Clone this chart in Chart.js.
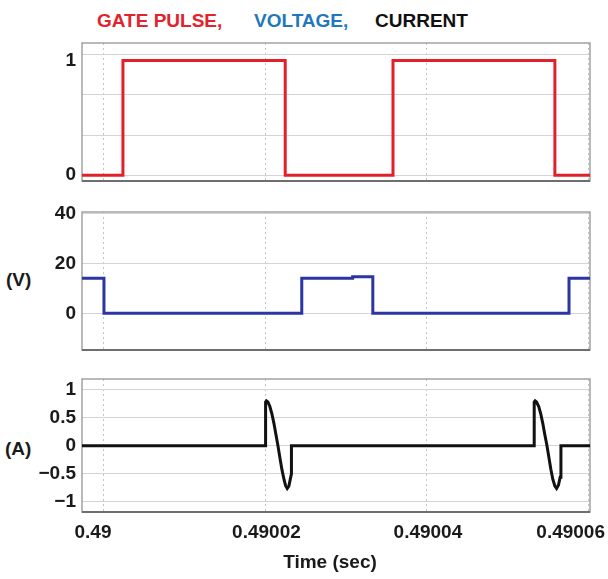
<!DOCTYPE html>
<html>
<head>
<meta charset="utf-8">
<script src="https://cdn.jsdelivr.net/npm/chart.js@4.4.1/dist/chart.umd.min.js"></script>
<style>
  body { margin: 0; background: #fff; font-family: Arial, "Liberation Sans", sans-serif; }
  #wrap { position: relative; width: 608px; height: 579px; overflow: hidden; }
  .box { position: absolute; left: 0; width: 608px; }
  .lbl { position: absolute; font: bold 19px Arial, "Liberation Sans", sans-serif; line-height: 20px; white-space: nowrap; }
</style>
</head>
<body>
<div id="wrap">
  <div class="lbl" style="left:97px; top:11px; color:#e3232c;">GATE PULSE,</div>
  <div class="lbl" style="left:254px; top:11px; color:#1f78be;">VOLTAGE,</div>
  <div class="lbl" style="left:375px; top:11px; color:#111;">CURRENT</div>
  <div class="lbl" style="left:6px; top:270px; color:#1a1a1a;">(V)</div>
  <div class="lbl" style="left:5px; top:439px; color:#1a1a1a;">(A)</div>

  <div class="box" style="top:40px; height:144px;"><canvas id="gateChart"></canvas></div>
  <div class="box" style="top:205px; height:150px;"><canvas id="voltChart"></canvas></div>
  <div class="box" style="top:372px; height:207px;"><canvas id="currChart"></canvas></div>
</div>

<script>
// time axis (seconds), traces given in microseconds after 0.49 s
const T0 = 0.49;
const xMin = 0.48999728, xMax = 0.4900602;
const timeTicks = [0.49, 0.49002, 0.49004, 0.49006];
const timeTickLabels = ['0.49', '0.49002', '0.49004', '0.49006'];

// gate pulse (step changes)
const gateTimeUs = [-2.72, 2.35, 22.45, 35.8, 55.85, 60.2];
const gateValues = [0, 1, 0, 1, 0, 0];
const gateGridValues = [0, 0.35, 0.7, 1.05];
const gateTickValues = [0, 1];

// voltage (step changes)
const voltTimeUs = [-2.72, 0, 24.5, 30.8, 33.3, 57.6, 60.2];
const voltValues = [14.1, 0, 14.1, 14.7, 0, 14.1, 14.1];
const voltTicks = [0, 20, 40];

// current
const currTimeUs = [-2.72, 20.02, 20.02, 20.12, 20.3, 20.55, 20.8, 21.05, 21.3, 21.55, 21.8, 22.05, 22.3, 22.5, 22.7, 22.9, 23.1, 23.22, 23.22,
    53.29, 53.29, 53.4, 53.58, 53.85, 54.1, 54.35, 54.6, 54.85, 55.1, 55.35, 55.6, 55.85, 56.06, 56.3, 56.5, 56.6, 56.6, 60.2];
const currValues = [0, 0, 0.78, 0.8, 0.78, 0.7, 0.57, 0.4, 0.2, 0, -0.22, -0.43, -0.6, -0.71, -0.76, -0.72, -0.58, -0.5, 0,
    0, 0.78, 0.8, 0.78, 0.7, 0.57, 0.4, 0.2, 0.02, -0.2, -0.42, -0.6, -0.72, -0.76, -0.7, -0.56, -0.5, 0, 0];
const currTicks = [-1, -0.5, 0, 0.5, 1];
const currTickLabels = ['\u22121', '\u22120.5', '0', '0.5', '1'];

const toPoints = (us, vals) => us.map((t, i) => ({ x: T0 + t * 1e-6, y: vals[i] }));

const tickFont = { family: 'Arial, "Liberation Sans", sans-serif', size: 19, weight: 'bold' };

const framePlugin = {
    id: 'frame',
    beforeDatasetsDraw(chart) {
        const { ctx, chartArea: a } = chart;
        ctx.save();
        ctx.strokeStyle = '#a2a2a2';
        ctx.lineWidth = 1.5;
        ctx.strokeRect(a.left, a.top, a.width, a.height);
        ctx.strokeStyle = '#6e6e6e';
        ctx.lineWidth = 2;
        ctx.beginPath();
        ctx.moveTo(a.left, a.bottom);
        ctx.lineTo(a.right, a.bottom);
        ctx.stroke();
        ctx.restore();
    }
};

// time labels under the last panel
const timeLabelNudge = [-11, 1, 1, 0];
const timeAxisPlugin = {
    id: 'timeAxis',
    afterDraw(chart) {
        const { ctx, chartArea: a } = chart;
        const sx = chart.scales.x;
        ctx.save();
        ctx.font = 'bold 19px Arial, "Liberation Sans", sans-serif';
        ctx.fillStyle = '#1a1a1a';
        ctx.textAlign = 'center';
        ctx.textBaseline = 'middle';
        timeTicks.forEach((v, i) => {
            const w = ctx.measureText(timeTickLabels[i]).width;
            let x = sx.getPixelForValue(v) + timeLabelNudge[i];
            x = Math.min(x, chart.width - w / 2 - 3);
            ctx.fillText(timeTickLabels[i], x, a.bottom + 21);
        });
        ctx.fillText('Time (sec)', a.left + a.width / 2 - 6, a.bottom + 51);
        ctx.restore();
    }
};

function makeChart(id, points, color, yOpts, padding, extraPlugins) {
    return new Chart(document.getElementById(id), {
        type: 'line',
        data: {
            datasets: [{
                data: points,
                borderColor: color,
                borderWidth: 3,
                pointRadius: 0,
                stepped: yOpts.stepped || false,
                tension: 0
            }]
        },
        options: {
            responsive: true,
            maintainAspectRatio: false,
            animation: false,
            layout: { padding: padding },
            plugins: { legend: { display: false }, tooltip: { enabled: false } },
            scales: {
                x: {
                    type: 'linear',
                    min: xMin,
                    max: xMax,
                    afterBuildTicks: s => { s.ticks = timeTicks.map(v => ({ value: v })); },
                    afterFit: s => { s.height = 0; s.paddingLeft = 0; s.paddingRight = 0; },
                    ticks: { display: false },
                    grid: { color: '#c4c4c4', lineWidth: 1, drawTicks: false },
                    border: { display: false, dash: [2, 3] }
                },
                y: {
                    min: yOpts.min,
                    max: yOpts.max,
                    afterBuildTicks: s => { s.ticks = yOpts.ticks.map(v => ({ value: v })); },
                    afterFit: s => { s.width = 82; s.paddingTop = 0; s.paddingBottom = 0; },
                    ticks: {
                        font: tickFont,
                        color: '#1a1a1a',
                        padding: 6,
                        callback: yOpts.label
                    },
                    grid: { color: yOpts.gridColor, lineWidth: 1, drawTicks: false },
                    border: { display: false }
                }
            }
        },
        plugins: [framePlugin].concat(extraPlugins || [])
    });
}

makeChart('gateChart', toPoints(gateTimeUs, gateValues), '#e3202a', {
    min: -0.05, max: 1.152, stepped: 'before',
    ticks: [0, 0.35, 0.7, 1, 1.05],
    label: v => gateTickValues.includes(v) ? String(v) : '',
    gridColor: ctx => ctx.tick && gateGridValues.includes(ctx.tick.value) ? '#d4d4d4' : 'rgba(0,0,0,0)'
}, { top: 3, bottom: 3, left: 0, right: 18 });

makeChart('voltChart', toPoints(voltTimeUs, voltValues), '#2b35a3', {
    min: -14.7, max: 40.6, stepped: 'before',
    ticks: voltTicks,
    label: v => String(v),
    gridColor: '#d4d4d4'
}, { top: 7, bottom: 5, left: 0, right: 18 });

makeChart('currChart', toPoints(currTimeUs, currValues), '#111111', {
    min: -1.18, max: 1.19,
    ticks: currTicks,
    label: (v, i) => currTickLabels[i],
    gridColor: '#d4d4d4'
}, { top: 7, bottom: 67, left: 0, right: 18 }, [timeAxisPlugin]);
</script>
</body>
</html>
